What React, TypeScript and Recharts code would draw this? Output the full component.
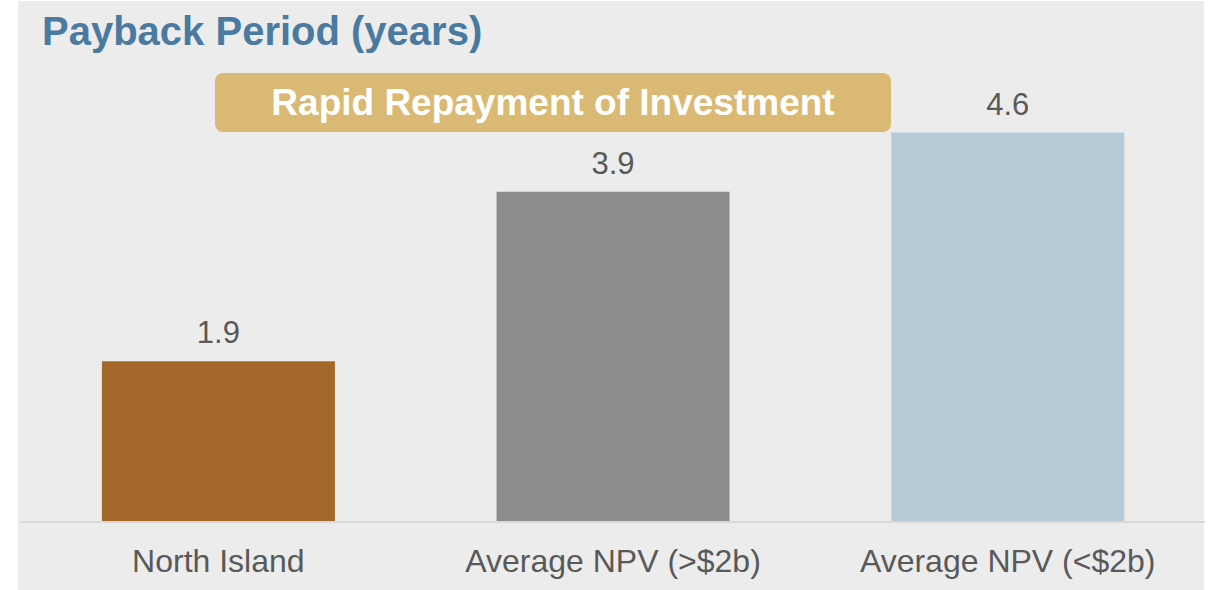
import { BarChart, Bar, XAxis, YAxis, LabelList, Cell } from "recharts";

const categories = ["North Island", "Average NPV (>$2b)", "Average NPV (<$2b)"];
const paybackYears = [1.9, 3.9, 4.6];
const barColors = ["#a4682a", "#8d8d8d", "#b7cad8"];

const chartData = categories.map((name, i) => ({ name, years: paybackYears[i] }));

const FONT = '"Liberation Sans", Arial, sans-serif';

export default function App() {
  return (
    <div style={{ position: "absolute", left: 0, top: 0, width: 1209, height: 590, background: "#fff", fontFamily: FONT }}>
      <div style={{ position: "absolute", left: 18, top: 1, width: 1186, height: 589, background: "#ececec" }} />

      <div style={{ position: "absolute", left: 0, top: 0 }}>
        <BarChart
          width={1209}
          height={590}
          data={chartData}
          margin={{ top: 14, right: 4, left: 21, bottom: 0 }}
          barCategoryGap="20.5%"
        >
          <XAxis
            dataKey="name"
            height={68}
            axisLine={{ stroke: "#d9d9d9", strokeWidth: 2 }}
            tickLine={false}
            tickMargin={21}
            tick={{ fontSize: 32, fill: "#595959", fontFamily: FONT }}
            interval={0}
          />
          <YAxis hide domain={[0, 6]} />
          <Bar dataKey="years" isAnimationActive={false}>
            {chartData.map((d, i) => (
              <Cell key={d.name} fill={barColors[i]} />
            ))}
            <LabelList
              dataKey="years"
              position="top"
              offset={18}
              style={{ fontSize: 31, fill: "#595959", fontFamily: FONT }}
              formatter={(v: number) => v.toFixed(1)}
            />
          </Bar>
        </BarChart>
      </div>

      <div
        style={{
          position: "absolute",
          left: 42,
          top: 11,
          fontSize: 40,
          lineHeight: "40px",
          fontWeight: 700,
          color: "#4a7aa0",
          whiteSpace: "nowrap",
        }}
      >
        Payback Period (years)
      </div>

      <div
        style={{
          position: "absolute",
          left: 215,
          top: 73,
          width: 676,
          height: 59,
          borderRadius: 8,
          background: "#d9b974",
          display: "flex",
          alignItems: "center",
          justifyContent: "center",
          color: "#fff",
          fontSize: 37,
          lineHeight: "37px",
          fontWeight: 700,
          whiteSpace: "nowrap",
        }}
      >
        Rapid Repayment of Investment
      </div>
    </div>
  );
}
